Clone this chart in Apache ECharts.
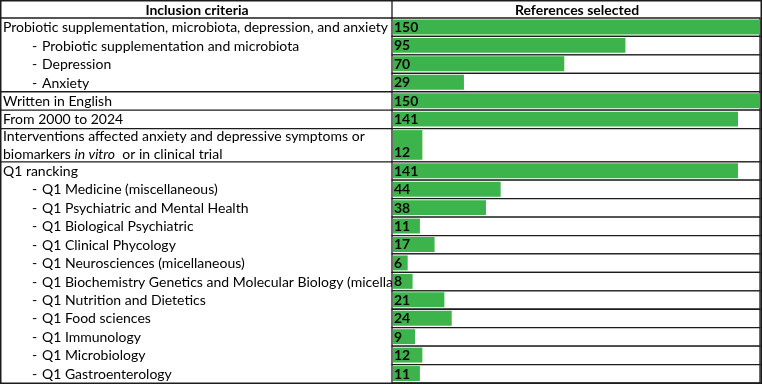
<!DOCTYPE html>
<html>
<head>
<meta charset="utf-8">
<script src="https://cdn.jsdelivr.net/npm/echarts@6/dist/echarts.min.js"></script>
<style>
  html, body { margin: 0; padding: 0; background: #fff; }
  #chart { width: 762px; height: 384px; }
</style>
</head>
<body>
<div id="chart"></div>
<script>
const headers = ['Inclusion criteria', 'References selected']

const criteria = [
  'Probiotic supplementation, microbiota, depression, and anxiety',
  '- Probiotic supplementation and microbiota',
  '- Depression',
  '- Anxiety',
  'Written in English',
  'From 2000 to 2024',
  'Interventions affected anxiety and depressive symptoms or\nbiomarkers in vitro  or in clinical trial',
  'Q1 rancking',
  '- Q1 Medicine (miscellaneous)',
  '- Q1 Psychiatric and Mental Health',
  '- Q1 Biological Psychiatric',
  '- Q1 Clinical Phycology',
  '- Q1 Neurosciences (micellaneous)',
  '- Q1 Biochemistry Genetics and Molecular Biology (micellaneous)',
  '- Q1 Nutrition and Dietetics',
  '- Q1 Food sciences',
  '- Q1 Immunology',
  '- Q1 Microbiology',
  '- Q1 Gastroenterology',
]

const references = [150, 95, 70, 29, 150, 141, 12, 141, 44, 38, 11, 17, 6, 8, 21, 24, 9, 12, 11]

const FONT = 'Lato, "Noto Sans", sans-serif'
const GREEN = '#3cb44b'
const LINE = '#1c1c1c'

// rows with two lines of text are taller
let start = 0
const rows = criteria.map((label, i) => {
  const span = 1 + 0.8 * (label.split('\n').length - 1)
  const row = [i, references[i], start, span]
  start += span
  return row
})
const totalUnits = start

function renderRow(params, api) {
  const i = api.value(0)
  const v = api.value(1)
  const s = api.value(2)
  const span = api.value(3)
  const cs = params.coordSys
  const top = api.coord([0, s])[1]
  const bottom = api.coord([0, s + span])[1]
  const x0 = api.coord([0, s])[0]
  const x1 = api.coord([v, s])[0]
  const mid = (top + bottom) / 2 + 0.5
  const label = criteria[i]
  const sub = label.startsWith('- ')
  const children = []

  const textStyle = { fontFamily: FONT, fontSize: 14, fill: '#000', verticalAlign: 'middle', lineHeight: 18 }
  if (sub) {
    children.push({ type: 'text', style: Object.assign({}, textStyle, { text: '-', x: 32, y: mid }) })
    children.push({ type: 'text', style: Object.assign({}, textStyle, { text: label.slice(2), x: 42, y: mid }) })
  } else {
    children.push({
      type: 'text',
      style: Object.assign({}, textStyle, {
        text: label.replace('in vitro', '{i|in vitro}'),
        x: 3,
        y: mid,
        rich: { i: { fontFamily: FONT, fontSize: 14, fontStyle: 'italic', lineHeight: 18, fill: '#000' } },
      }),
    })
    // group separator across the left column
    children.push({ type: 'line', shape: { x1: 0, y1: top, x2: cs.x, y2: top }, style: { stroke: LINE, lineWidth: 1.3 } })
  }

  // right-hand cell (white fill hides overflowing text)
  children.push({
    type: 'rect',
    shape: { x: cs.x - 1, y: top, width: cs.width + 1, height: bottom - top },
    style: { fill: '#fff', stroke: LINE, lineWidth: 1.3 },
  })
  children.push({
    type: 'rect',
    shape: { x: x0, y: top + 1.5, width: x1 - x0, height: bottom - top - 3.5 },
    style: { fill: GREEN },
  })
  children.push({
    type: 'text',
    style: {
      text: String(v), x: x0 + 1, y: bottom - 2, verticalAlign: 'bottom',
      fontFamily: FONT, fontSize: 14, fontWeight: 'bold', fill: '#0a0a0a',
    },
  })
  return { type: 'group', children }
}

const chart = echarts.init(document.getElementById('chart'), null, { renderer: 'canvas' })
chart.setOption({
  animation: false,
  grid: { left: 393, right: 2, top: 18, bottom: 1 },
  xAxis: { type: 'value', min: 0, max: 150, show: false },
  yAxis: { type: 'value', min: 0, max: totalUnits, inverse: true, show: false },
  graphic: [
    { type: 'rect', shape: { x: 0.75, y: 0.75, width: 760.5, height: 382.5 }, style: { fill: 'none', stroke: LINE, lineWidth: 1.5 }, z: 10 },
    { type: 'line', shape: { x1: 392, y1: 0, x2: 392, y2: 18 }, style: { stroke: LINE, lineWidth: 1.3 }, z: 10 },
    { type: 'text', x: 197, y: 10, style: { text: headers[0], align: 'center', verticalAlign: 'middle', fontFamily: FONT, fontSize: 14, fontWeight: 'bold', fill: '#000' }, z: 10 },
    { type: 'text', x: 577, y: 10, style: { text: headers[1], align: 'center', verticalAlign: 'middle', fontFamily: FONT, fontSize: 14, fontWeight: 'bold', fill: '#000' }, z: 10 },
  ],
  series: [{
    type: 'custom',
    renderItem: renderRow,
    data: rows,
    clip: false,
  }],
})
</script>
</body>
</html>
